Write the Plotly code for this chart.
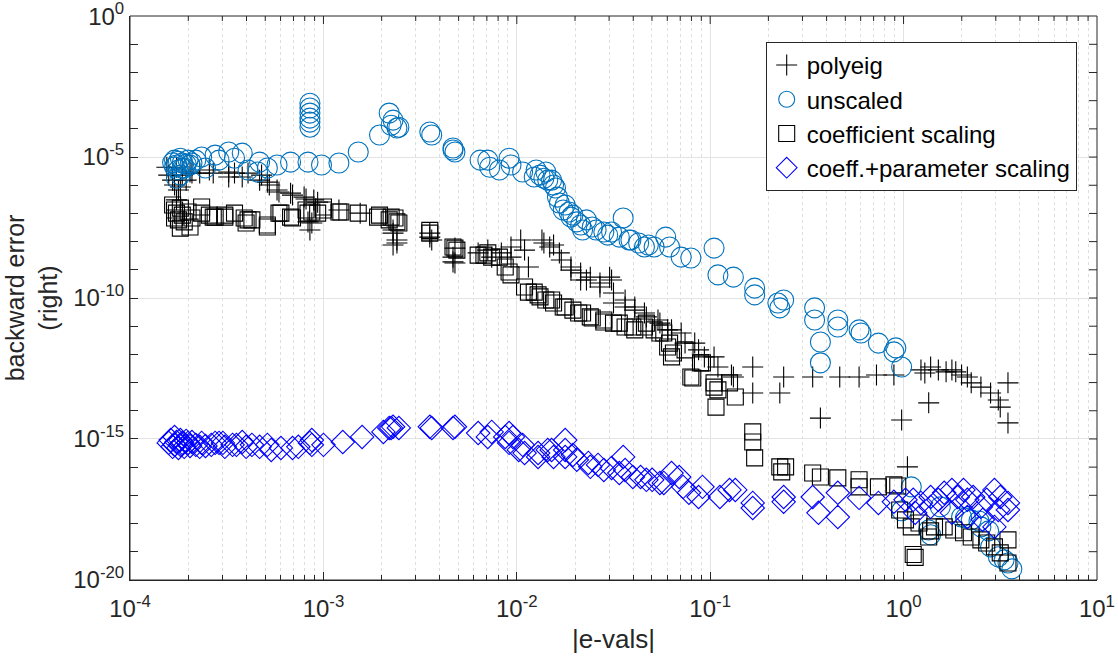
import numpy as np
import plotly.graph_objects as go

# ---- data: log10 of values ----
# polyeig (+)
polyeig_eval_log10 = [
    -3.81, -3.80, -3.78, -3.77, -3.76, -3.75, -3.74, -3.76, -3.73, -3.71,
    -3.69, -3.68, -3.64, -3.59, -3.57, -3.49, -3.49, -3.46, -3.42, -3.39,
    -3.33, -3.32, -3.29, -3.28, -3.24, -3.23, -3.17, -3.16, -3.10, -3.09,
    -3.05, -3.03, -3.08, -3.07, -3.06, -2.92, -2.81, -2.64, -2.64, -2.62,
    -2.62, -2.64, -2.45, -2.45, -2.44, -2.32, -2.33, -2.33, -2.32, -2.20,
    -2.15, -2.13, -2.08, -2.03, -2.03, -1.98, -1.96, -1.94, -1.87, -1.86,
    -1.83, -1.81, -1.78, -1.77, -1.72, -1.72, -1.67, -1.67, -1.64, -1.62,
    -1.57, -1.57, -1.52, -1.51, -1.50, -1.50, -1.44, -1.44, -1.39, -1.39,
    -1.34, -1.33, -1.27, -1.26, -1.22, -1.20, -1.15, -1.13, -1.08, -1.06,
    -1.03, -0.98, -0.96, -0.89, -0.88, -0.78, -0.78, -0.64, -0.62, -0.47,
    -0.43, -0.33, -0.23, -0.14, -0.05, -0.01, 0.02, 0.09, 0.11, 0.13,
    0.14, 0.18, 0.22, 0.25, 0.27, 0.30, 0.33, 0.35, 0.40, 0.45,
    0.49, 0.50, 0.54, 0.54]
polyeig_err_log10 = [
    -5.36, -5.64, -5.82, -5.99, -5.36, -6.17, -6.06, -6.52, -5.64, -5.82,
    -5.53, -5.57, -5.57, -5.46, -5.57, -5.53, -5.71, -5.57, -5.71, -5.57,
    -5.82, -5.64, -5.89, -5.99, -6.17, -6.24, -6.28, -6.35, -6.42, -6.49,
    -6.52, -6.60, -7.30, -7.59, -7.34, -6.88, -6.99, -7.59, -7.70, -7.94,
    -8.05, -8.12, -7.70, -7.84, -7.94, -8.23, -8.55, -8.72, -8.76, -8.40,
    -8.30, -8.55, -8.40, -8.55, -8.19, -7.94, -8.30, -8.90, -7.94, -8.05,
    -8.19, -8.12, -8.40, -8.65, -8.90, -9.01, -9.11, -9.36, -9.36, -9.26,
    -9.61, -9.47, -9.26, -9.36, -9.82, -10.18, -10.07, -10.32, -10.32, -10.43,
    -10.53, -10.67, -10.78, -10.89, -11.13, -11.13, -11.24, -11.60, -11.60, -11.84,
    -12.09, -12.09, -12.45, -12.73, -12.80, -12.45, -13.37, -13.37, -12.80, -12.80,
    -14.26, -12.80, -12.80, -12.73, -12.73, -14.33, -15.99, -12.55, -12.66, -13.72,
    -12.45, -12.55, -12.62, -12.55, -12.62, -12.73, -12.80, -13.01, -13.16, -13.37,
    -13.62, -13.87, -13.01, -14.43]

# unscaled (o)
unscaled_eval_log10 = [
    -3.77, -3.76, -3.75, -3.74, -3.73, -3.72, -3.70, -3.74, -3.76, -3.69,
    -3.68, -3.66, -3.63, -3.61, -3.56, -3.54, -3.49, -3.46, -3.42, -3.39,
    -3.34, -3.33, -3.29, -3.24, -3.17, -3.08, -3.01, -2.92, -2.82, -2.71,
    -2.66, -2.65, -2.64, -2.62, -2.61, -2.45, -2.44, -2.33, -2.33, -2.32,
    -2.19, -2.15, -2.14, -2.09, -2.04, -2.03, -1.97, -1.91, -1.90, -1.88,
    -1.86, -1.85, -1.84, -1.82, -1.81, -1.80, -1.79, -1.78, -1.76, -1.75,
    -1.73, -1.72, -1.71, -1.69, -1.67, -1.66, -1.64, -1.61, -1.59, -1.55,
    -1.53, -1.51, -1.47, -1.45, -1.42, -1.41, -1.37, -1.34, -1.32, -1.29,
    -1.23, -1.21, -1.15, -1.10, -0.98, -0.96, -0.88, -0.77, -0.77, -0.65,
    -0.64, -0.62, -0.46, -0.46, -0.43, -0.43, -0.34, -0.34, -0.23, -0.22,
    -0.13, -0.05, -0.04, -0.01, -3.07, -3.07, -3.07, -3.07, -3.07, -3.07,
    -0.01, 0.04, 0.13, 0.14, 0.19, 0.30, 0.32, 0.35, 0.39, 0.40,
    0.44, 0.45, 0.49, 0.52, 0.54, 0.56,
    -3.78, -3.77, -3.75, -3.73, -3.71]
unscaled_err_log10 = [
    -5.11, -5.28, -5.46, -5.04, -5.21, -5.39, -5.11, -5.64, -5.75, -5.28,
    -5.21, -5.11, -5.00, -5.39, -4.93, -5.11, -4.82, -5.04, -4.86, -5.46,
    -5.53, -5.18, -5.39, -5.28, -5.18, -5.18, -5.28, -5.21, -4.82, -4.22,
    -3.44, -3.87, -3.69, -3.97, -3.94, -4.11, -4.22, -4.75, -4.68, -4.82,
    -5.11, -5.11, -5.36, -5.46, -5.04, -5.28, -5.53, -5.71, -5.46, -5.64,
    -5.75, -5.53, -5.82, -5.82, -5.99, -6.10, -6.42, -6.63, -6.88, -6.70,
    -6.95, -7.13, -7.06, -7.30, -7.41, -7.59, -7.23, -7.48, -7.59, -7.66,
    -7.77, -7.66, -7.84, -7.16, -7.94, -7.94, -8.05, -8.19, -8.12, -8.19,
    -7.84, -8.19, -8.55, -8.58, -8.23, -9.18, -9.26, -9.65, -9.89, -10.18,
    -10.35, -10.07, -10.35, -10.78, -11.56, -12.30, -10.78, -11.03, -11.13, -11.24,
    -11.60, -11.91, -11.77, -12.45, -3.09, -3.26, -3.44, -3.62, -3.76, -3.94,
    -17.55, -16.70, -18.23, -18.40, -17.41, -17.77, -17.80, -17.87, -17.91, -18.12,
    -18.26, -18.83, -19.18, -19.29, -19.40, -19.61,
    -5.20, -5.35, -5.15, -5.40, -5.25]

# coefficient scaling (square)
coeff_eval_log10 = [
    -3.78, -3.77, -3.76, -3.75, -3.74, -3.73, -3.72, -3.70, -3.69, -3.68,
    -3.77, -3.74, -3.63, -3.63, -3.59, -3.57, -3.56, -3.51, -3.51, -3.46,
    -3.41, -3.40, -3.39, -3.37, -3.29, -3.29, -3.23, -3.22, -3.17, -3.16,
    -3.09, -3.08, -3.06, -3.03, -3.00, -3.00, -2.92, -2.91, -2.82, -2.72,
    -2.71, -2.66, -2.65, -2.63, -2.62, -2.61, -2.45, -2.45, -2.33, -2.32,
    -2.31, -2.20, -2.17, -2.15, -2.13, -2.09, -2.06, -2.04, -2.03, -1.96,
    -1.94, -1.91, -1.89, -1.88, -1.85, -1.82, -1.81, -1.76, -1.75, -1.71,
    -1.68, -1.66, -1.62, -1.61, -1.55, -1.55, -1.50, -1.47, -1.44, -1.40,
    -1.39, -1.34, -1.33, -1.29, -1.26, -1.24, -1.22, -1.21, -1.20, -1.19,
    -1.13, -1.10, -1.09, -1.05, -1.04, -0.98, -0.98, -0.97, -0.96, -0.90,
    -0.87, -0.78, -0.78, -0.77, -0.64, -0.63, -0.61, -0.47, -0.43, -0.34,
    -0.23, -0.23, -0.13, -0.05, -0.03, -0.02, 0.01, 0.04, 0.05, 0.06,
    0.08, 0.13, 0.14, 0.16, 0.21, 0.26, 0.31, 0.35, 0.40, 0.43,
    0.47, 0.50, 0.54, 0.54]
coeff_err_log10 = [
    -6.70, -6.88, -6.99, -7.23, -6.81, -7.06, -7.30, -6.95, -7.48, -7.16,
    -7.16, -7.52, -6.77, -6.99, -7.06, -7.13, -7.13, -7.13, -7.06, -6.99,
    -7.16, -7.34, -7.23, -7.23, -7.41, -7.48, -6.99, -6.99, -7.13, -7.16,
    -6.88, -6.99, -6.95, -6.99, -6.88, -6.77, -6.95, -6.95, -6.99, -7.13,
    -7.06, -7.23, -7.13, -7.16, -7.30, -7.34, -7.70, -7.60, -8.19, -8.23,
    -8.30, -8.48, -8.48, -8.40, -8.55, -8.55, -8.90, -9.08, -9.18, -9.61,
    -9.79, -9.79, -9.89, -9.96, -10.07, -10.07, -10.18, -10.32, -10.32, -10.43,
    -10.53, -10.53, -10.67, -10.71, -10.85, -10.78, -10.89, -10.89, -11.03, -11.03,
    -11.13, -11.03, -10.89, -11.13, -11.24, -11.24, -11.74, -11.60, -12.09, -11.95,
    -11.84, -12.80, -12.84, -12.30, -12.30, -13.01, -13.16, -13.87, -13.26, -13.01,
    -13.51, -14.75, -15.11, -15.67, -15.99, -16.17, -15.99, -16.21, -16.35, -16.38,
    -16.45, -16.70, -16.70, -16.63, -16.67, -17.52, -17.87, -18.12, -19.10, -19.20,
    -17.98, -18.48, -18.26, -18.12, -18.12, -18.23, -18.33, -18.48, -18.58, -18.69,
    -18.83, -19.04, -18.58, -19.40]

# coeff.+parameter scaling (diamond)
param_eval_log10 = [
    -3.80, -3.79, -3.78, -3.77, -3.77, -3.76, -3.75, -3.74, -3.74, -3.73,
    -3.72, -3.71, -3.70, -3.69, -3.68, -3.66, -3.64, -3.63, -3.61, -3.58,
    -3.56, -3.54, -3.52, -3.51, -3.47, -3.45, -3.42, -3.40, -3.37, -3.33,
    -3.29, -3.27, -3.22, -3.16, -3.13, -3.07, -3.06, -3.06, -3.00, -2.90,
    -2.80, -2.69, -2.66, -2.65, -2.64, -2.61, -2.45, -2.44, -2.33, -2.32,
    -2.20, -2.15, -2.13, -2.06, -2.04, -2.04, -2.02, -1.99, -1.97, -1.96,
    -1.89, -1.89, -1.84, -1.82, -1.81, -1.75, -1.75, -1.75, -1.71, -1.69,
    -1.63, -1.62, -1.58, -1.55, -1.51, -1.47, -1.45, -1.44, -1.40, -1.36,
    -1.33, -1.30, -1.26, -1.24, -1.20, -1.16, -1.14, -1.11, -1.06, -1.04,
    -0.95, -0.90, -0.87, -0.78, -0.78, -0.62, -0.62, -0.47, -0.44, -0.34,
    -0.34, -0.23, -0.13, -0.05, 0.01, 0.05, 0.06, 0.09, 0.14, 0.14,
    0.18, 0.21, 0.25, 0.25, 0.28, 0.31, 0.33, 0.33, 0.36, 0.40,
    0.41, 0.43, 0.47, 0.47, 0.49, 0.50, 0.54, 0.54]
param_err_log10 = [
    -15.14, -15.04, -15.28, -14.93, -15.21, -15.11, -15.32, -15.04, -15.21, -15.14,
    -15.28, -15.07, -15.14, -15.25, -15.11, -15.21, -15.28, -15.14, -15.25, -15.21,
    -15.14, -15.14, -15.14, -15.28, -15.21, -15.21, -15.11, -15.28, -15.21, -15.28,
    -15.21, -15.39, -15.32, -15.32, -15.28, -15.14, -15.04, -15.21, -15.21, -15.11,
    -14.93, -14.75, -14.61, -14.61, -14.57, -14.61, -14.57, -14.61, -14.61, -14.57,
    -14.79, -14.93, -14.75, -14.93, -14.79, -15.14, -14.93, -15.39, -15.21, -15.50,
    -15.50, -15.64, -15.39, -15.39, -15.64, -15.04, -15.64, -15.39, -15.57, -15.74,
    -15.85, -15.99, -15.92, -16.10, -16.03, -16.21, -15.64, -16.10, -16.35, -16.35,
    -16.45, -16.45, -16.56, -16.56, -16.21, -16.35, -16.70, -16.91, -17.06, -16.70,
    -17.06, -16.81, -16.81, -17.27, -17.45, -17.23, -17.06, -17.06, -17.62, -17.77,
    -16.91, -17.09, -17.27, -17.23, -17.16, -17.16, -17.62, -17.27, -17.06, -17.41,
    -17.16, -16.91, -16.81, -17.62, -17.06, -16.81, -17.16, -17.77, -17.06, -17.41,
    -17.87, -17.16, -16.81, -18.12, -17.52, -17.06, -17.27, -17.52]

series_names = ["polyeig", "unscaled", "coefficient scaling", "coeff.+parameter scaling"]

# axis tick labels
x_tick_exponents = [-4, -3, -2, -1, 0, 1]
y_tick_exponents = [-20, -15, -10, -5, 0]

# ---- figure ----
FONT = "Liberation Sans, Arial, Helvetica, sans-serif"
AXC = "#262626"
XR = [-4.0004, 1.0004]
YR = [-20.004, 0.004]


def pw(a):
    return 10.0 ** np.asarray(a, dtype=float)


fig = go.Figure()
fig.add_trace(go.Scatter(
    x=pw(polyeig_eval_log10), y=pw(polyeig_err_log10), mode="markers", name=series_names[0],
    marker=dict(symbol="cross-thin-open", size=15, color="black", line=dict(width=1.1, color="black"))))
fig.add_trace(go.Scatter(
    x=pw(unscaled_eval_log10), y=pw(unscaled_err_log10), mode="markers", name=series_names[1],
    marker=dict(symbol="circle-open", size=20, color="#0072BD", line=dict(width=1.1, color="#0072BD"))))
fig.add_trace(go.Scatter(
    x=pw(coeff_eval_log10), y=pw(coeff_err_log10), mode="markers", name=series_names[2],
    marker=dict(symbol="square-open", size=16, color="black", line=dict(width=1.1, color="black"))))
fig.add_trace(go.Scatter(
    x=pw(param_eval_log10), y=pw(param_err_log10), mode="markers", name=series_names[3],
    marker=dict(symbol="diamond-open", size=18, color="#0000FF", line=dict(width=1.1, color="#0000FF"))))

x_major = [10.0 ** e for e in x_tick_exponents]
y_major = [10.0 ** e for e in y_tick_exponents]
x_minor = [m * 10.0 ** k for k in range(-4, 1) for m in range(2, 10)]
y_minor = [10.0 ** k for k in range(-20, 1)]

common = dict(type="log", zeroline=False, showline=True, linecolor=AXC, linewidth=1,
              ticks="inside", ticklen=8, tickcolor=AXC, tickwidth=1, tickmode="array",
              automargin=False, ticklabeloverflow="allow")

# box outline and mirrored ticks on the top / right edges
shapes = [dict(type="rect", xref="paper", yref="paper", x0=0, x1=1, y0=0, y1=1,
               line=dict(color=AXC, width=1), fillcolor="rgba(0,0,0,0)", layer="above")]
for v in y_minor[1:-1]:
    shapes.append(dict(type="line", xref="paper", xsizemode="pixel", xanchor=1, x0=-8, x1=0,
                       yref="y", y0=v, y1=v, line=dict(color=AXC, width=1), layer="above"))
for v in x_major[1:-1]:
    shapes.append(dict(type="line", yref="paper", ysizemode="pixel", yanchor=1, y0=-8, y1=0,
                       xref="x", x0=v, x1=v, line=dict(color=AXC, width=1), layer="above"))
for v in x_minor:
    shapes.append(dict(type="line", yref="paper", ysizemode="pixel", yanchor=1, y0=-5, y1=0,
                       xref="x", x0=v, x1=v, line=dict(color=AXC, width=1), layer="above"))

fig.update_layout(
    width=1118, height=661,
    margin=dict(l=130, r=21, t=16, b=81),
    paper_bgcolor="white", plot_bgcolor="white",
    font=dict(family=FONT, color=AXC),
    showlegend=True,
    shapes=shapes,
    legend=dict(
        x=0.979, y=0.954, xanchor="right", yanchor="top",
        bgcolor="white", bordercolor=AXC, borderwidth=1,
        font=dict(family=FONT, size=24, color="black"),
        itemsizing="trace", tracegroupgap=0,
    ),
    xaxis=dict(
        **common, range=XR,
        tickvals=x_major,
        ticktext=["10<sup>%d</sup>" % e for e in x_tick_exponents],
        showgrid=True, gridcolor="#e3e3e3", gridwidth=1,
        tickfont=dict(family=FONT, size=24, color=AXC),
        ticklabelstandoff=7,
        minor=dict(tickmode="array", tickvals=x_minor, ticks="inside", ticklen=5,
                   tickcolor=AXC, showgrid=True, gridcolor="#dedede", griddash="dot", gridwidth=1),
        title=dict(text="|e-vals|", font=dict(family=FONT, size=26, color=AXC), standoff=9),
    ),
    yaxis=dict(
        **common, range=YR,
        tickvals=y_major,
        ticktext=["10<sup>%d</sup>" % e for e in y_tick_exponents],
        showgrid=True, gridcolor="#e3e3e3", gridwidth=1,
        tickfont=dict(family=FONT, size=24, color=AXC),
        minor=dict(tickmode="array", tickvals=y_minor, ticks="inside", ticklen=8,
                   tickcolor=AXC, showgrid=False),
        title=dict(text="backward error<br>(right)", font=dict(family=FONT, size=25, color=AXC), standoff=8),
    ),
)

fig.write_html("out.html")
